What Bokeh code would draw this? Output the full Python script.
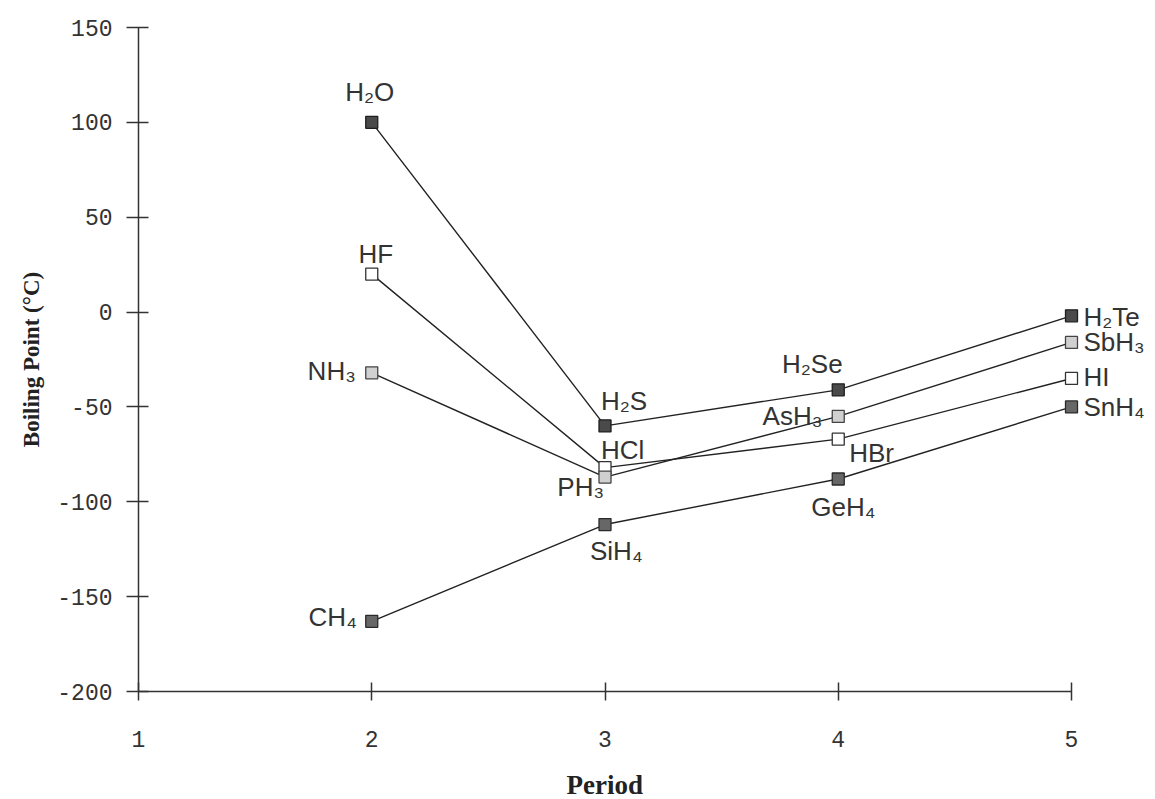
from bokeh.plotting import figure
from bokeh.models import Range1d, FixedTicker, Title
from bokeh.core.properties import value
from bokeh.embed import file_html
from bokeh.resources import INLINE

# ---- data ----
period = [2, 3, 4, 5]
g16_names = ["H₂O", "H₂S", "H₂Se", "H₂Te"]
g16_bp = [100, -60, -41, -2]
g17_names = ["HF", "HCl", "HBr", "HI"]
g17_bp = [20, -82, -67, -35]
g15_names = ["NH₃", "PH₃", "AsH₃", "SbH₃"]
g15_bp = [-32, -87, -55, -16]
g14_names = ["CH₄", "SiH₄", "GeH₄", "SnH₄"]
g14_bp = [-163, -112, -88, -50]
x_ticks = [1, 2, 3, 4, 5]
y_ticks = [-200, -150, -100, -50, 0, 50, 100, 150]

# ---- layout ----
W, H = 1150, 799
BL, BR, BT, BB = 138, 5, 27, 108
px_per_unit = 233.25
x_end = 1 + (W - BL - BR) / px_per_unit

p = figure(width=W, height=H, output_backend="svg", toolbar_location=None,
           x_range=Range1d(1, x_end), y_range=Range1d(-200, 150),
           min_border_left=BL, min_border_right=BR, min_border_top=BT, min_border_bottom=BB)
p.outline_line_color = None
p.grid.visible = False
p.background_fill_color = "white"

axis_col = "#333333"
tick_font = "Liberation Mono"

xa = p.xaxis[0]
xa.ticker = FixedTicker(ticks=x_ticks)
xa.bounds = (1, 5)
xa.axis_line_color = axis_col
xa.axis_line_width = 1.5
xa.major_tick_line_color = axis_col
xa.major_tick_line_width = 1.5
xa.major_tick_in = 9
xa.major_tick_out = 9
xa.minor_tick_line_color = None
xa.major_label_text_font = tick_font
xa.major_label_text_font_size = "23px"
xa.major_label_text_color = "#333333"
xa.major_label_standoff = 30
# blank spacer between the tick labels and the "Period" title
xa.axis_label = "\u00a0"
xa.axis_label_text_font_size = "10px"
xa.axis_label_standoff = 4

ya = p.yaxis[0]
ya.ticker = FixedTicker(ticks=y_ticks)
ya.major_label_overrides = {t: str(t) for t in y_ticks}
ya.bounds = (-200, 150)
ya.axis_line_color = axis_col
ya.axis_line_width = 1.5
ya.major_tick_line_color = axis_col
ya.major_tick_line_width = 1.5
ya.major_tick_in = 10
ya.major_tick_out = 12
ya.minor_tick_line_color = None
ya.major_label_text_font = tick_font
ya.major_label_text_font_size = "23px"
ya.major_label_text_color = "#333333"
ya.major_label_standoff = 14
ya.axis_label = "Boiling Point (°C)"
ya.axis_label_text_font = "Liberation Serif"
ya.axis_label_text_font_style = "bold"
ya.axis_label_text_font_size = "23px"
ya.axis_label_text_color = "#222222"
ya.axis_label_standoff = 10

# "Period" centred under x = 3 (frame extends right of x = 5 for the labels)
period_w = 77
p.add_layout(Title(text="Period", align="left", offset=int(2 * px_per_unit - period_w / 2),
                   vertical_align="bottom", standoff=0,
                   text_font="Liberation Serif", text_font_style="bold",
                   text_font_size="27px", text_color="#222222"), "below")

series = [
    (g16_names, g16_bp, "#4a4a4a", "#1e1e1e"),
    (g17_names, g17_bp, "#ffffff", "#333333"),
    (g15_names, g15_bp, "#d0d0d0", "#444444"),
    (g14_names, g14_bp, "#676767", "#2a2a2a"),
]

for names, bp, fill, edge in series:
    p.line(period, bp, line_color="#222222", line_width=1.4)
    p.scatter(period, bp, marker="square", size=12, fill_color=fill, line_color=edge, line_width=1.3)

# label placement: name -> (align, dx, baseline dy in px, positive = down)
label_style = {
    "H₂O": ("center", -2, -30),
    "H₂S": ("left", -4, -25),
    "H₂Se": ("center", -26, -26),
    "H₂Te": ("left", 12, 1),
    "HF": ("center", 4, -20),
    "HCl": ("left", -4, -18),
    "HBr": ("left", 11, 14),
    "HI": ("left", 12, -1),
    "NH₃": ("right", -16, -2),
    "PH₃": ("right", -1, 10),
    "AsH₃": ("right", -16, 0),
    "SbH₃": ("left", 12, 0),
    "CH₄": ("right", -15, -4),
    "SiH₄": ("left", -15, 26),
    "GeH₄": ("center", 5, 28),
    "SnH₄": ("left", 12, 0),
}

for names, bp, fill, edge in series:
    for xv, yv, nm in zip(period, bp, names):
        al, dx, dy = label_style[nm]
        p.text(x=[xv], y=[yv], text=[nm], x_offset=dx, y_offset=dy,
               text_align=al, text_baseline="alphabetic",
               text_font=value("Liberation Sans"), text_font_size="26px",
               text_color="#333333")

open("out.html", "w").write(file_html(p, INLINE))
